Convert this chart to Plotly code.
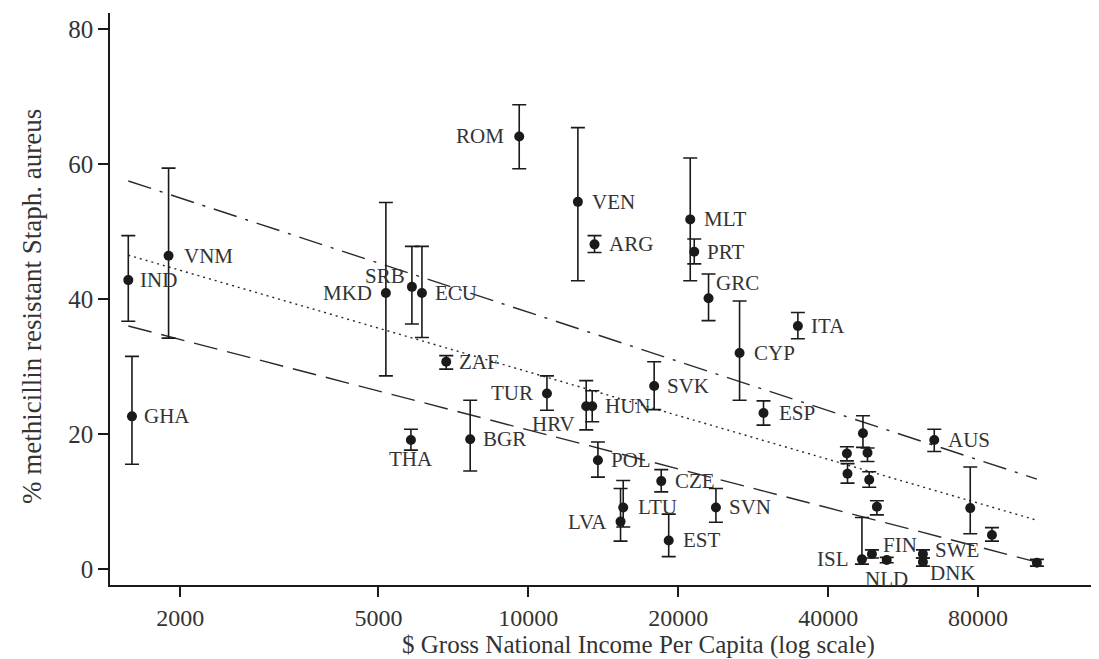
import numpy as np
import plotly.graph_objects as go

# ---- data ----
countries = ["IND", "GHA", "VNM", "MKD", "SRB", "THA", "ECU", "ZAF", "BGR", "ROM",
             "TUR", "VEN", "HRV", "HUN", "ARG", "POL", "LVA", "LTU", "SVK", "CZE",
             "EST", "MLT", "PRT", "GRC", "SVN", "CYP", "ESP", "ITA", "", "",
             "ISL", "", "", "", "FIN", "", "NLD", "SWE", "DNK", "AUS",
             "", "", ""]
gni = [1573, 1600, 1895, 5176, 5838, 5811, 6115, 6842, 7644, 9589,
       10900, 12576, 13070, 13438, 13582, 13797, 15318, 15510, 17895, 18490,
       19140, 21143, 21538, 23010, 23810, 26560, 29670, 34780, 43630, 43750,
       46770, 46990, 47990, 48370, 48980, 50120, 52440, 62000, 62000, 65340,
       77170, 85320, 105030]
mrsa = [42.8, 22.6, 46.4, 40.9, 41.8, 19.1, 40.9, 30.7, 19.2, 64.1,
        26.0, 54.4, 24.1, 24.1, 48.1, 16.1, 7.0, 9.1, 27.1, 13.0,
        4.2, 51.8, 47.0, 40.1, 9.1, 32.0, 23.1, 36.0, 17.1, 14.1,
        1.4, 20.1, 17.2, 13.2, 2.2, 9.2, 1.3, 2.2, 1.0, 19.1,
        9.0, 5.0, 0.9]
ci_high = [49.4, 31.5, 59.4, 54.3, 47.8, 20.7, 47.8, 31.6, 25.0, 68.8,
           28.6, 65.4, 27.9, 26.4, 49.4, 18.8, 11.9, 13.1, 30.7, 14.7,
           8.1, 60.9, 48.9, 43.7, 11.9, 39.7, 24.9, 38.0, 18.1, 15.6,
           7.6, 22.7, 17.9, 14.4, 2.8, 10.1, 1.7, 2.8, 1.6, 20.7,
           15.1, 6.1, 1.4]
ci_low = [36.7, 15.5, 34.2, 28.6, 36.3, 17.6, 34.3, 29.6, 14.5, 59.3,
          23.5, 42.7, 20.6, 21.8, 46.9, 13.6, 4.1, 6.2, 23.6, 11.4,
          1.8, 42.7, 45.2, 36.8, 6.9, 25.0, 21.3, 34.1, 16.0, 12.7,
          0.7, 18.0, 15.9, 12.1, 1.6, 8.0, 0.9, 1.6, 0.4, 17.4,
          5.2, 4.1, 0.4]

# fitted lines (end points)
line_x = [1573, 105030]
upper_y = [57.5, 13.3]
fit_y = [46.5, 7.2]
lower_y = [36.0, 1.0]

x_ticks = [2000, 5000, 10000, 20000, 40000, 80000]
y_ticks = [0, 20, 40, 60, 80]

x_title = "$ Gross National Income Per Capita (log scale)"
y_title = "% methicillin resistant Staph. aureus"

# ---- label placement (style) ----
# (xanchor, xshift, yshift)
label_pos = {
    "IND": ("left", 10, 0), "GHA": ("left", 10, 0), "VNM": ("left", 13, 0),
    "MKD": ("right", -12, 0), "SRB": ("right", -5, 11), "THA": ("center", 0, -19),
    "ECU": ("left", 11, 0), "ZAF": ("left", 11, 0), "BGR": ("left", 11, 0),
    "ROM": ("right", -13, 0), "TUR": ("right", -12, 0), "VEN": ("left", 12, 0),
    "HRV": ("right", -9, -18), "HUN": ("left", 11, 0), "ARG": ("left", 12, 0),
    "POL": ("left", 11, 0), "LVA": ("right", -12, 0), "LTU": ("left", 13, 0),
    "SVK": ("left", 11, 0), "CZE": ("left", 12, 0), "EST": ("left", 12, 0),
    "MLT": ("left", 12, 0), "PRT": ("left", 11, 0), "GRC": ("left", 5, 15),
    "SVN": ("left", 11, 0), "CYP": ("left", 12, 0), "ESP": ("left", 13, 0),
    "ITA": ("left", 11, 0), "ISL": ("right", -11, 0), "FIN": ("left", 9, 9),
    "NLD": ("center", 0, -19), "SWE": ("left", 10, 4), "DNK": ("left", 5, -11),
    "AUS": ("left", 12, 0),
}

SERIF = "Liberation Serif, Times New Roman, serif"
INK = "#1a1a1a"
TXT = "#333333"

fig = go.Figure()

line_w = 1.4
fig.add_trace(go.Scatter(x=line_x, y=upper_y, mode="lines",
                         line=dict(color="#2a2a2a", width=line_w, dash="24px,9px,3px,9px"),
                         hoverinfo="skip", showlegend=False))
fig.add_trace(go.Scatter(x=line_x, y=fit_y, mode="lines",
                         line=dict(color="#2a2a2a", width=line_w, dash="2px,4px"),
                         hoverinfo="skip", showlegend=False))
fig.add_trace(go.Scatter(x=line_x, y=lower_y, mode="lines",
                         line=dict(color="#2a2a2a", width=line_w, dash="24px,10px"),
                         hoverinfo="skip", showlegend=False))

err_plus = [h - v for h, v in zip(ci_high, mrsa)]
err_minus = [v - l for v, l in zip(mrsa, ci_low)]

fig.add_trace(go.Scatter(
    x=gni, y=mrsa, mode="markers",
    marker=dict(color=INK, size=10),
    error_y=dict(type="data", symmetric=False, array=err_plus, arrayminus=err_minus,
                 color=INK, thickness=1.6, width=7),
    text=countries, showlegend=False))

annotations = []
for name, xv, yv in zip(countries, gni, mrsa):
    if not name:
        continue
    xa, xs, ys = label_pos.get(name, ("left", 11, 0))
    annotations.append(dict(
        x=np.log10(xv), y=yv, xref="x", yref="y", text=name, showarrow=False,
        xanchor=xa, yanchor="middle", xshift=xs, yshift=ys,
        font=dict(family=SERIF, size=21, color=TXT)))

# axis titles
annotations.append(dict(
    text=x_title, xref="paper", yref="paper", x=0.5, y=0,
    xanchor="center", yanchor="middle", xshift=34, yshift=-60, showarrow=False,
    font=dict(family=SERIF, size=25, color=TXT)))
annotations.append(dict(
    text=y_title, xref="paper", yref="paper", x=0, y=0.5, textangle=-90,
    xanchor="center", yanchor="middle", xshift=-78, yshift=-8, showarrow=False,
    font=dict(family=SERIF, size=27, color=TXT)))

# page body has an 8px margin; size the figure so it fills the 1099x659 view
fig.update_layout(
    width=1091, height=651,
    margin=dict(l=102, r=0, t=5, b=74),
    paper_bgcolor="white", plot_bgcolor="white",
    annotations=annotations,
    font=dict(family=SERIF, color=TXT),
    xaxis=dict(
        type="log", range=[3.160, 5.146], automargin=False,
        tickvals=x_ticks, ticktext=[str(t) for t in x_ticks],
        showgrid=False, zeroline=False,
        showline=True, linecolor=INK, linewidth=1.5,
        ticks="outside", ticklen=10, tickwidth=1.5, tickcolor=INK,
        tickfont=dict(family=SERIF, size=24, color=TXT),
    ),
    yaxis=dict(
        range=[-2.4, 82.4], automargin=False,
        tickvals=y_ticks, ticktext=[str(t) for t in y_ticks],
        showgrid=False, zeroline=False,
        showline=True, linecolor=INK, linewidth=1.5,
        ticks="outside", ticklen=10, tickwidth=1.5, tickcolor=INK,
        tickfont=dict(family=SERIF, size=25, color=TXT),
    ),
)

fig.write_html("out.html")
